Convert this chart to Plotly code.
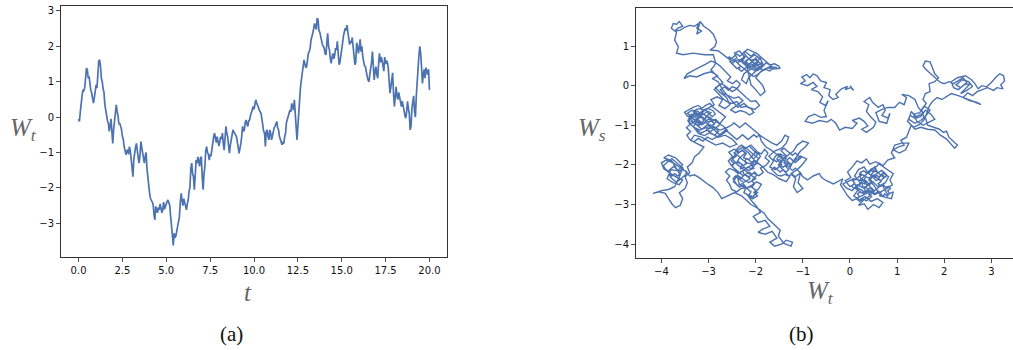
import plotly.graph_objects as go

# ---------------- Panel (a): W_t against t (dt = 0.05, t from 0 to 20) ----------------
t_start = 0.0
t_step = 0.05
w_a = [
    -0.05, -0.12, 0.15, 0.50, 0.60, 0.77, 0.75, 0.82, 1.10, 1.38, 1.35, 1.10, 1.15, 0.85, 0.75, 0.68, 0.52, 0.40, 0.55, 0.85,
    0.91, 0.82, 1.20, 1.58, 1.62, 1.45, 1.10, 1.00, 0.80, 0.70, 0.35, 0.20, -0.05, -0.10, -0.17, -0.40, -0.25, -0.05, -0.40, -0.74,
    -0.35, -0.15, 0.20, 0.35, 0.15, 0.05, -0.20, -0.17, -0.26, -0.35, -0.55, -0.62, -0.83, -0.95, -1.06, -0.95, -0.92, -1.05, -0.83, -0.95,
    -1.20, -1.45, -1.68, -1.20, -0.93, -0.85, -0.74, -1.00, -1.15, -1.30, -1.10, -0.69, -0.85, -1.00, -1.25, -1.30, -1.10, -1.00, -1.45, -1.77,
    -1.95, -2.15, -2.30, -2.34, -2.40, -2.45, -2.75, -2.90, -2.52, -2.60, -2.70, -2.55, -2.62, -2.45, -2.55, -2.70, -2.62, -2.40, -2.60, -2.50,
    -2.43, -2.38, -2.34, -2.45, -2.50, -2.81, -3.10, -3.45, -3.62, -3.28, -3.40, -3.35, -3.20, -3.09, -2.95, -2.81, -2.40, -2.15, -2.35, -2.50,
    -2.30, -2.40, -2.55, -2.62, -2.45, -2.34, -2.10, -1.96, -1.45, -1.30, -1.60, -1.68, -2.05, -1.70, -1.21, -1.30, -1.12, -1.25, -1.39, -1.15,
    -1.12, -1.70, -2.05, -1.60, -1.40, -0.95, -0.83, -1.00, -1.05, -1.21, -1.05, -1.10, -0.85, -0.64, -0.55, -0.45, -0.62, -0.72, -0.55, -0.65,
    -0.82, -0.70, -0.55, -0.62, -0.45, -0.75, -0.93, -0.60, -0.26, -0.45, -0.55, -0.80, -1.02, -0.80, -0.64, -0.45, -0.36, -0.42, -0.45, -0.50,
    -0.55, -0.80, -0.85, -1.02, -0.90, -0.75, -0.55, -0.26, -0.40, -0.36, -0.15, -0.08, -0.20, -0.26, -0.10, -0.08, 0.05, 0.11, 0.20, 0.30,
    0.22, 0.35, 0.49, 0.40, 0.30, 0.28, 0.20, 0.15, 0.11, -0.05, -0.26, -0.40, -0.45, -0.83, -0.40, -0.36, -0.55, -0.64, -0.36, -0.45,
    -0.64, -0.50, -0.45, -0.30, -0.26, -0.20, -0.12, -0.30, -0.36, -0.55, -0.64, -0.75, -0.78, -0.72, -0.74, -0.55, -0.45, -0.15, -0.08, 0.05,
    0.11, 0.20, 0.15, 0.39, 0.25, 0.20, 0.49, 0.10, -0.30, -0.64, -0.26, 0.20, 0.58, 0.85, 1.05, 1.25, 1.43, 1.62, 1.50, 1.40,
    1.43, 1.70, 1.81, 1.85, 1.95, 2.18, 2.25, 2.37, 2.50, 2.65, 2.55, 2.48, 2.80, 2.75, 2.45, 2.40, 2.28, 2.10, 2.05, 2.00,
    1.95, 1.80, 1.76, 2.10, 2.37, 2.00, 1.90, 1.65, 1.52, 1.70, 1.80, 1.65, 1.75, 1.95, 1.90, 2.14, 1.90, 1.48, 1.55, 1.80,
    2.00, 2.10, 2.30, 2.40, 2.51, 2.45, 2.60, 2.40, 2.20, 2.05, 2.15, 2.10, 2.25, 1.90, 1.70, 1.48, 1.55, 2.10, 2.00, 1.80,
    1.95, 2.20, 1.85, 2.00, 1.70, 1.55, 1.45, 1.43, 1.25, 1.15, 1.05, 1.00, 1.20, 1.35, 1.55, 1.85, 1.20, 1.05, 1.30, 1.43,
    1.20, 1.10, 1.50, 1.80, 1.55, 1.70, 1.60, 1.45, 1.30, 1.70, 1.50, 1.60, 1.55, 1.40, 0.90, 0.68, 0.85, 1.05, 1.25, 0.70,
    0.30, 0.55, 0.86, 0.60, 0.50, 0.70, 0.55, 0.40, 0.30, 0.45, 0.35, 0.20, 0.05, -0.03, 0.15, 0.45, 0.25, 0.10, -0.36, -0.25,
    0.25, 0.55, 0.60, 0.15, 0.00, 0.60, 1.10, 1.50, 1.75, 2.00, 1.80, 1.40, 0.95, 1.20, 1.35, 1.10, 1.40, 1.30, 1.20, 1.35,
    0.77,
]
x_ticks_a = [0.0, 2.5, 5.0, 7.5, 10.0, 12.5, 15.0, 17.5, 20.0]
y_ticks_a = [-3, -2, -1, 0, 1, 2, 3]

# ---------------- Panel (b): planar path (W_t, W_s) ----------------
seg_band = [
    (0.00, 0.00), (0.08, -0.12), (0.02, -0.05), (-0.10, -0.10), (-0.05, -0.02), (-0.18, -0.08), (-0.30, -0.22), (-0.25, -0.30),
    (-0.36, -0.35), (-0.45, -0.25), (-0.42, -0.10), (-0.55, -0.05), (-0.50, 0.08), (-0.62, 0.12), (-0.70, 0.25), (-0.78, 0.30),
    (-0.85, 0.20), (-0.92, 0.28), (-1.02, 0.22), (-0.95, 0.12), (-1.05, 0.05), (-0.90, 0.00), (-0.78, 0.08), (-0.70, -0.02),
    (-0.82, -0.10), (-0.68, -0.15), (-0.58, -0.28), (-0.64, -0.42), (-0.52, -0.50), (-0.46, -0.38), (-0.55, -0.62), (-0.50, -0.78),
    (-0.62, -0.80), (-0.75, -0.72), (-0.88, -0.78), (-0.95, -0.90), (-0.80, -0.95), (-0.65, -0.88), (-0.48, -0.92), (-0.40, -0.85),
    (-0.30, -0.95), (-0.22, -1.12), (-0.10, -1.05), (0.05, -1.08), (0.15, -0.95), (0.05, -0.88), (0.20, -0.82), (0.30, -0.90),
    (0.38, -1.02), (0.25, -1.10), (0.35, -1.18), (0.50, -1.05), (0.55, -0.92), (0.45, -0.80), (0.35, -0.65), (0.40, -0.48),
    (0.30, -0.40), (0.42, -0.30), (0.48, -0.42), (0.60, -0.55), (0.70, -0.48), (0.75, -0.62), (0.68, -0.75), (0.80, -0.82),
    (0.85, -0.70), (0.78, -0.95), (0.62, -0.90), (0.55, -0.68), (0.68, -0.60), (0.80, -0.55), (0.95, -0.55), (1.05, -0.42),
    (1.15, -0.48), (1.20, -0.30), (1.10, -0.22), (1.25, -0.25), (1.38, -0.35),
]
seg_mid_right = [
    (1.45, -0.55), (1.55, -0.70), (1.40, -0.78), (1.30, -0.65), (1.25, -0.85), (1.38, -0.95), (1.50, -0.88), (1.62, -0.75),
    (1.70, -0.62), (1.58, -0.52), (1.48, -0.68), (1.35, -0.72), (1.42, -0.90), (1.55, -1.00), (1.68, -0.92), (1.80, -0.85),
    (1.72, -0.72), (1.60, -0.62), (1.50, -0.78), (1.38, -0.82), (1.28, -0.75), (1.22, -0.90), (1.35, -1.05), (1.48, -0.98),
    (1.58, -0.85), (1.52, -0.60), (1.62, -0.45), (1.55, -0.35), (1.60, -0.20), (1.70, -0.15), (1.68, 0.05), (1.80, 0.10),
    (1.88, 0.20), (1.80, 0.30), (1.75, 0.45), (1.70, 0.60), (1.60, 0.62), (1.55, 0.50), (1.62, 0.40), (1.70, 0.32),
    (1.85, 0.15), (1.92, 0.08), (2.00, 0.05), (2.10, 0.10), (2.20, 0.05),
]
seg_top_right = [
    (2.30, 0.12), (2.40, 0.20), (2.48, 0.08), (2.35, -0.05), (2.25, 0.02), (2.38, 0.15), (2.52, 0.10), (2.60, -0.02),
    (2.48, -0.12), (2.35, -0.20), (2.45, -0.08), (2.55, 0.05), (2.42, 0.02), (2.30, -0.10), (2.20, -0.05), (2.15, 0.10),
    (2.28, 0.20), (2.45, 0.25), (2.58, 0.15), (2.65, 0.05), (2.72, -0.08), (2.80, 0.00), (2.90, -0.03), (3.00, 0.08),
    (3.10, 0.22), (3.18, 0.30), (3.26, 0.25), (3.28, 0.12), (3.20, 0.02), (3.25, -0.08), (3.12, -0.05), (3.05, -0.12),
    (2.92, -0.05), (2.80, -0.10), (2.70, -0.15), (2.60, -0.25), (2.50, -0.18), (2.40, -0.30), (2.55, -0.38), (2.70, -0.42),
    (2.78, -0.48), (2.62, -0.40), (2.45, -0.32), (2.30, -0.25), (2.15, -0.20), (2.05, -0.28), (1.95, -0.35), (1.85, -0.30),
    (1.75, -0.40), (1.68, -0.52),
]
seg_spur_down = [
    (1.60, -0.80), (1.65, -1.00), (1.78, -1.05), (1.90, -1.10), (1.98, -1.18), (2.05, -1.15), (2.10, -1.30), (2.20, -1.40),
    (2.28, -1.50), (2.22, -1.58), (2.15, -1.48), (2.05, -1.35), (1.92, -1.25), (1.80, -1.12), (1.65, -1.10), (1.50, -1.05),
    (1.38, -1.10), (1.30, -1.00), (1.25, -1.15), (1.20, -1.30), (1.08, -1.38), (1.15, -1.50), (1.02, -1.55), (0.92, -1.62),
    (1.05, -1.70), (1.18, -1.62), (1.25, -1.45), (1.10, -1.45), (0.95, -1.50), (0.88, -1.70), (0.95, -1.82), (0.80, -1.88),
    (0.70, -2.02), (0.62, -1.95),
]
seg_low_dense = [
    (0.58, -2.02), (0.52, -2.08), (0.57, -2.15), (0.50, -2.18), (0.44, -2.14), (0.40, -2.22), (0.46, -2.28), (0.41, -2.33),
    (0.34, -2.30), (0.30, -2.37), (0.36, -2.42), (0.31, -2.48), (0.24, -2.44), (0.20, -2.52), (0.26, -2.57), (0.33, -2.55),
    (0.38, -2.61), (0.45, -2.57), (0.50, -2.63), (0.47, -2.70), (0.54, -2.72), (0.60, -2.66), (0.66, -2.71), (0.63, -2.78),
    (0.70, -2.80), (0.74, -2.73), (0.79, -2.79), (0.84, -2.72), (0.80, -2.65), (0.86, -2.60), (0.82, -2.54), (0.76, -2.57),
    (0.71, -2.50), (0.65, -2.54), (0.60, -2.47), (0.66, -2.42), (0.62, -2.36), (0.55, -2.40), (0.51, -2.34), (0.56, -2.27),
    (0.63, -2.30), (0.69, -2.25), (0.74, -2.32), (0.78, -2.26), (0.73, -2.19), (0.67, -2.14), (0.61, -2.19), (0.55, -2.24),
    (0.48, -2.27), (0.43, -2.35), (0.47, -2.43), (0.42, -2.50), (0.36, -2.53), (0.30, -2.60), (0.34, -2.67), (0.28, -2.72),
    (0.22, -2.68), (0.16, -2.73), (0.20, -2.80), (0.14, -2.86), (0.21, -2.92), (0.28, -2.86), (0.35, -2.91), (0.41, -2.86),
    (0.46, -2.80), (0.40, -2.74), (0.45, -2.68), (0.38, -2.66), (0.31, -2.70), (0.26, -2.64), (0.19, -2.60), (0.14, -2.55),
    (0.08, -2.60), (0.04, -2.53), (0.10, -2.46), (0.06, -2.40), (0.13, -2.36), (0.18, -2.30), (0.25, -2.26), (0.22, -2.19),
    (0.29, -2.15), (0.35, -2.20), (0.41, -2.16), (0.47, -2.10), (0.53, -2.05), (0.55, -2.10),
]
seg_low_cluster = [
    (0.45, -2.25), (0.60, -2.35), (0.70, -2.20), (0.82, -2.30), (0.75, -2.45), (0.60, -2.55), (0.48, -2.42),
    (0.35, -2.50), (0.25, -2.35), (0.38, -2.20), (0.30, -2.05), (0.18, -2.12), (0.10, -2.28), (0.22, -2.45), (0.12, -2.60),
    (0.25, -2.70), (0.40, -2.62), (0.52, -2.75), (0.65, -2.68), (0.78, -2.60), (0.90, -2.50), (0.85, -2.38), (0.92, -2.22),
    (0.80, -2.12), (0.68, -2.02), (0.55, -1.92), (0.42, -1.98), (0.35, -1.85), (0.25, -1.95), (0.15, -1.90), (0.05, -2.05),
    (-0.05, -2.18), (0.02, -2.32), (-0.10, -2.40), (0.00, -2.55), (0.10, -2.48), (0.18, -2.62), (0.08, -2.78), (0.20, -2.88),
    (0.32, -2.80), (0.45, -2.92), (0.58, -2.85), (0.70, -2.95), (0.62, -3.08), (0.50, -3.00), (0.38, -3.12), (0.30, -2.98),
    (0.18, -3.02), (0.28, -2.90), (0.42, -2.78), (0.55, -2.62), (0.68, -2.50), (0.80, -2.75), (0.92, -2.68), (0.88, -2.85),
    (0.75, -2.82), (0.62, -2.72), (0.50, -2.50), (0.40, -2.38), (0.52, -2.28), (0.65, -2.40), (0.72, -2.32), (0.58, -2.18),
    (0.45, -2.10), (0.32, -2.28), (0.20, -2.22), (0.28, -2.58), (0.15, -2.50), (0.05, -2.65), (-0.08, -2.58), (-0.15, -2.48),
    (-0.02, -2.40), (0.08, -2.35), (0.35, -2.42), (0.48, -2.65), (0.35, -2.72), (0.22, -2.80), (0.05, -2.90), (-0.05, -2.78),
    (-0.12, -2.65), (-0.20, -2.50), (-0.15, -2.35), (-0.25, -2.42), (-0.35, -2.48), (-0.50, -2.40), (-0.60, -2.32), (-0.65, -2.22),
    (-0.78, -2.28), (-0.90, -2.38), (-1.00, -2.30), (-1.05, -2.20),
]
seg_lr_dense = [
    (-1.10, -2.15), (-1.16, -2.08), (-1.22, -2.14), (-1.28, -2.08), (-1.24, -2.00), (-1.30, -1.94), (-1.36, -2.00), (-1.42, -2.06),
    (-1.48, -2.00), (-1.44, -1.92), (-1.50, -1.86), (-1.56, -1.92), (-1.62, -1.86), (-1.58, -1.78), (-1.52, -1.72), (-1.46, -1.78),
    (-1.40, -1.84), (-1.34, -1.78), (-1.40, -1.70), (-1.46, -1.64), (-1.40, -1.58), (-1.34, -1.64), (-1.28, -1.70), (-1.22, -1.76),
    (-1.16, -1.70), (-1.10, -1.76), (-1.04, -1.82), (-1.10, -1.88), (-1.16, -1.94), (-1.22, -1.88), (-1.28, -1.82), (-1.34, -1.88),
    (-1.30, -1.96), (-1.36, -2.04), (-1.30, -2.12), (-1.36, -2.18), (-1.42, -2.12), (-1.48, -2.18), (-1.54, -2.12), (-1.60, -2.06),
    (-1.66, -2.12), (-1.60, -2.20), (-1.54, -2.26), (-1.46, -2.28), (-1.38, -2.24), (-1.30, -2.28), (-1.22, -2.24), (-1.16, -2.30),
    (-1.10, -2.24), (-1.05, -2.20),
]
seg_left_right_cluster = [
    (-1.10, -2.45), (-1.00, -2.60), (-1.12, -2.70), (-1.20, -2.55), (-1.15, -2.35), (-1.25, -2.22), (-1.10, -2.10), (-1.00, -1.98),
    (-0.92, -1.85), (-1.05, -1.78), (-1.18, -1.90), (-1.30, -2.05), (-1.40, -1.95), (-1.35, -1.80), (-1.48, -1.72), (-1.55, -1.85),
    (-1.45, -2.00), (-1.58, -2.12), (-1.70, -2.05), (-1.62, -1.90), (-1.72, -1.78), (-1.60, -1.65), (-1.45, -1.58), (-1.35, -1.45),
    (-1.30, -1.30), (-1.38, -1.25), (-1.45, -1.40), (-1.55, -1.50), (-1.65, -1.45), (-1.80, -1.35), (-1.92, -1.25), (-1.88, -1.40),
    (-1.78, -1.55), (-1.68, -1.62), (-1.50, -1.78), (-1.38, -1.92), (-1.25, -2.00), (-1.15, -1.82), (-1.05, -1.65), (-0.95, -1.55),
    (-0.88, -1.45), (-1.00, -1.40), (-1.12, -1.50), (-1.20, -1.65), (-1.30, -1.75), (-1.42, -1.85), (-1.52, -2.00), (-1.40, -2.15),
    (-1.28, -2.30), (-1.35, -2.42), (-1.50, -2.35), (-1.62, -2.25), (-1.75, -2.18), (-1.85, -2.05), (-1.95, -1.95),
]
seg_mid_mass = [
    (-2.03, -1.88), (-2.11, -1.97), (-2.04, -2.09), (-2.16, -2.14), (-2.25, -2.05), (-2.33, -2.11), (-2.29, -1.98), (-2.41, -1.93),
    (-2.52, -2.01), (-2.58, -1.90), (-2.49, -1.79), (-2.57, -1.68), (-2.45, -1.60), (-2.37, -1.71), (-2.29, -1.62), (-2.20, -1.71),
    (-2.26, -1.82), (-2.15, -1.87), (-2.07, -1.76), (-1.99, -1.66), (-1.88, -1.72), (-1.81, -1.61), (-1.74, -1.70), (-1.80, -1.82),
    (-1.71, -1.91), (-1.79, -2.02), (-1.90, -2.08), (-1.84, -2.19), (-1.93, -2.27), (-2.05, -2.21), (-2.14, -2.30), (-2.24, -2.24),
    (-2.31, -2.35), (-2.42, -2.31), (-2.47, -2.43), (-2.38, -2.52), (-2.27, -2.47), (-2.19, -2.58), (-2.08, -2.51), (-1.98, -2.43),
    (-1.88, -2.49), (-1.94, -2.61), (-2.04, -2.69), (-1.96, -2.78), (-2.07, -2.86), (-2.15, -2.77), (-2.25, -2.70), (-2.21, -2.58),
    (-2.32, -2.60), (-2.40, -2.68), (-2.51, -2.62), (-2.55, -2.50), (-2.62, -2.39), (-2.55, -2.28), (-2.64, -2.18), (-2.56, -2.09),
    (-2.45, -2.14), (-2.37, -2.22), (-2.28, -2.15), (-2.19, -2.07), (-2.10, -2.01), (-1.99, -1.98), (-1.95, -1.95),
]
seg_mid_dense = [
    (-2.00, -1.90), (-2.06, -1.96), (-2.12, -1.90), (-2.18, -1.84), (-2.24, -1.90), (-2.20, -1.97), (-2.27, -2.02), (-2.33, -1.96),
    (-2.38, -1.90), (-2.34, -1.82), (-2.28, -1.76), (-2.22, -1.70), (-2.28, -1.64), (-2.35, -1.68), (-2.41, -1.62), (-2.36, -1.55),
    (-2.30, -1.50), (-2.24, -1.54), (-2.18, -1.60), (-2.12, -1.66), (-2.06, -1.72), (-2.00, -1.78), (-1.94, -1.84), (-1.98, -1.92),
    (-2.04, -2.04), (-2.10, -2.10), (-2.16, -2.05), (-2.22, -2.10), (-2.28, -2.16), (-2.24, -2.24), (-2.18, -2.28), (-2.12, -2.34),
    (-2.18, -2.40), (-2.25, -2.44), (-2.31, -2.40), (-2.37, -2.34), (-2.43, -2.28), (-2.48, -2.35), (-2.44, -2.42), (-2.40, -2.50),
    (-2.34, -2.56), (-2.28, -2.52), (-2.22, -2.56), (-2.16, -2.62), (-2.10, -2.68), (-2.14, -2.75), (-2.08, -2.82), (-2.02, -2.76),
    (-1.96, -2.70), (-2.02, -2.62), (-2.08, -2.56), (-2.03, -2.48), (-2.08, -2.40), (-2.03, -2.32), (-1.97, -2.26), (-2.02, -2.18),
    (-2.08, -2.24), (-2.14, -2.18), (-2.20, -2.22), (-2.26, -2.28), (-2.32, -2.22), (-2.38, -2.16), (-2.44, -2.10), (-2.50, -2.04),
    (-2.46, -1.96), (-2.52, -1.90), (-2.46, -1.82), (-2.40, -1.76), (-2.46, -1.70), (-2.40, -1.64), (-2.34, -1.60), (-2.28, -1.56),
    (-2.20, -1.58), (-2.14, -1.52), (-2.08, -1.58), (-2.02, -1.66), (-1.96, -1.74), (-2.02, -1.82), (-2.05, -1.85),
]
seg_mid_cluster = [
    (-2.15, -1.70), (-2.25, -1.60), (-2.10, -1.50), (-2.00, -1.62), (-1.90, -1.78), (-2.02, -2.00), (-2.18, -1.95),
    (-2.30, -1.85), (-2.42, -1.72), (-2.50, -1.85), (-2.38, -2.00), (-2.25, -2.12), (-2.12, -2.22), (-2.00, -2.35), (-2.15, -2.45),
    (-2.28, -2.35), (-2.40, -2.25), (-2.35, -2.48), (-2.22, -2.60), (-2.10, -2.55), (-1.98, -2.65), (-2.05, -2.80), (-2.18, -2.75),
    (-2.08, -2.92), (-1.98, -3.05), (-1.90, -3.20), (-2.05, -3.30), (-1.95, -3.45), (-1.80, -3.40), (-1.70, -3.55), (-1.85, -3.62),
    (-1.95, -3.70), (-1.80, -3.75), (-1.65, -3.68), (-1.55, -3.85), (-1.70, -3.95), (-1.60, -4.05), (-1.45, -4.00), (-1.35, -3.90),
    (-1.22, -3.95), (-1.25, -4.05), (-1.40, -3.98), (-1.52, -3.80), (-1.48, -3.65), (-1.60, -3.52), (-1.75, -3.35), (-1.82, -3.22),
    (-1.95, -3.10), (-2.10, -3.00), (-2.20, -2.88), (-2.30, -2.78), (-2.45, -2.70), (-2.60, -2.78), (-2.72, -2.85), (-2.80, -2.70),
    (-2.90, -2.58), (-3.00, -2.50), (-3.10, -2.40), (-3.20, -2.32), (-3.30, -2.25), (-3.40, -2.28),
]
seg_fl_dense = [
    (-3.50, -2.15), (-3.56, -2.10), (-3.62, -2.16), (-3.68, -2.10), (-3.74, -2.04), (-3.80, -2.10), (-3.86, -2.16), (-3.92, -2.10),
    (-3.96, -2.02), (-3.90, -1.96), (-3.84, -1.90), (-3.78, -1.84), (-3.72, -1.90), (-3.66, -1.96), (-3.60, -2.02), (-3.54, -2.08),
    (-3.60, -2.22), (-3.66, -2.28), (-3.72, -2.22), (-3.78, -2.28), (-3.84, -2.22), (-3.80, -2.32), (-3.74, -2.38), (-3.68, -2.44),
    (-3.62, -2.38), (-3.56, -2.32), (-3.50, -2.26), (-3.46, -2.18),
]
seg_far_left = [
    (-3.50, -2.15), (-3.62, -2.05), (-3.75, -1.95), (-3.90, -1.88), (-4.00, -1.95), (-3.95, -2.10), (-3.82, -2.20), (-3.70, -2.30),
    (-3.55, -2.38), (-3.62, -2.50), (-3.75, -2.45), (-3.88, -2.35), (-3.80, -2.12), (-3.65, -2.15), (-3.55, -2.00), (-3.70, -1.82),
    (-3.85, -1.75), (-3.95, -1.82), (-3.78, -1.90), (-3.60, -2.25), (-3.72, -2.55), (-3.85, -2.62), (-4.00, -2.65), (-4.10, -2.70),
    (-4.18, -2.72), (-4.05, -2.68), (-3.92, -2.72), (-3.85, -2.85), (-3.78, -2.98), (-3.70, -3.08), (-3.60, -3.02), (-3.55, -2.85),
    (-3.62, -2.70), (-3.50, -2.60), (-3.45, -2.45), (-3.50, -2.30), (-3.40, -2.20), (-3.45, -2.05), (-3.35, -1.95), (-3.30, -1.80),
    (-3.20, -1.70), (-3.10, -1.55), (-3.25, -1.45), (-3.38, -1.38), (-3.30, -1.25), (-3.15, -1.30), (-3.00, -1.40), (-2.85, -1.50),
    (-2.70, -1.45), (-2.55, -1.55), (-2.40, -1.48), (-2.50, -1.35), (-2.65, -1.25), (-2.80, -1.30), (-2.95, -1.20), (-3.05, -1.10),
    (-2.90, -1.05), (-2.75, -1.12), (-2.60, -1.05),
]
seg_between = [
    (-2.52, -1.00), (-2.46, -0.94), (-2.40, -1.00), (-2.34, -1.06), (-2.28, -1.00), (-2.22, -0.94), (-2.16, -1.00), (-2.10, -1.06),
    (-2.04, -1.12), (-1.98, -1.18), (-1.92, -1.24), (-1.98, -1.30), (-2.04, -1.24), (-2.10, -1.30), (-2.16, -1.36), (-2.22, -1.30),
    (-2.28, -1.24), (-2.34, -1.30), (-2.40, -1.36), (-2.46, -1.30), (-2.52, -1.24), (-2.58, -1.18), (-2.64, -1.12), (-2.70, -1.18),
    (-2.76, -1.24), (-2.82, -1.18), (-2.88, -1.12), (-2.82, -1.04), (-2.76, -0.98),
]
seg_lm_dense = [
    (-2.82, -0.90), (-2.88, -0.96), (-2.94, -0.90), (-3.00, -0.84), (-3.06, -0.90), (-3.12, -0.96), (-3.18, -0.90), (-3.24, -0.84),
    (-3.30, -0.78), (-3.36, -0.72), (-3.42, -0.78), (-3.38, -0.86), (-3.32, -0.92), (-3.26, -0.98), (-3.20, -1.04), (-3.14, -1.10),
    (-3.08, -1.04), (-3.02, -0.98), (-2.96, -1.04), (-2.90, -1.10), (-2.96, -1.16), (-3.02, -1.12), (-3.10, -1.16), (-3.16, -1.20),
    (-3.22, -1.14), (-3.28, -1.08), (-3.34, -1.02), (-3.40, -0.96), (-3.44, -0.88), (-3.40, -0.80), (-3.34, -0.74), (-3.28, -0.66),
    (-3.22, -0.72), (-3.16, -0.66), (-3.10, -0.72), (-3.04, -0.66), (-2.98, -0.72), (-2.92, -0.78), (-2.86, -0.72), (-2.90, -0.64),
    (-2.96, -0.60), (-3.04, -0.58), (-3.12, -0.62), (-3.18, -0.58), (-3.26, -0.60), (-3.32, -0.66), (-3.26, -0.76), (-3.20, -0.82),
    (-3.14, -0.78), (-3.08, -0.84), (-3.02, -0.78), (-2.96, -0.84), (-2.90, -0.86), (-2.82, -0.92), (-2.76, -0.96),
]
seg_lm_mass = [
    (-2.68, -1.03), (-2.60, -1.13), (-2.70, -1.22), (-2.81, -1.28), (-2.92, -1.36), (-3.03, -1.30), (-3.12, -1.40), (-3.22, -1.33),
    (-3.31, -1.42), (-3.40, -1.36), (-3.46, -1.25), (-3.38, -1.16), (-3.47, -1.06), (-3.39, -0.97), (-3.30, -1.07), (-3.21, -1.21),
    (-3.09, -1.26), (-2.98, -1.19), (-2.87, -1.25), (-2.79, -1.15), (-2.86, -1.05), (-2.97, -0.99), (-3.06, -0.93), (-3.15, -0.99),
    (-3.25, -0.92), (-3.34, -0.83), (-3.45, -0.77), (-3.51, -0.67), (-3.42, -0.60), (-3.33, -0.55), (-3.22, -0.50), (-3.14, -0.57),
    (-3.06, -0.50), (-2.97, -0.45), (-2.90, -0.55), (-2.82, -0.63), (-2.73, -0.70), (-2.64, -0.79), (-2.71, -0.88), (-2.76, -0.96),
]
seg_left_mid = [
    (-2.85, -0.85), (-3.00, -0.92), (-3.15, -0.80), (-3.28, -0.70), (-3.40, -0.78), (-3.35, -0.92), (-3.20, -1.00),
    (-3.10, -0.88), (-3.22, -0.65), (-3.35, -0.62), (-3.45, -0.70), (-3.30, -0.85), (-3.15, -0.95), (-3.05, -0.78), (-2.95, -0.68),
    (-3.08, -0.62), (-3.20, -0.75), (-3.32, -1.05), (-3.18, -1.12), (-3.02, -1.05), (-2.88, -0.98), (-2.95, -0.82), (-3.12, -0.72),
    (-3.25, -0.85), (-3.38, -0.98), (-3.42, -0.85), (-3.00, -0.55), (-2.88, -0.48), (-2.95, -0.35), (-2.82, -0.28), (-2.70, -0.35),
    (-2.78, -0.50), (-2.65, -0.58), (-2.55, -0.48), (-2.62, -0.30), (-2.75, -0.18), (-2.85, -0.05), (-2.72, 0.05), (-2.60, -0.05),
    (-2.50, -0.15), (-2.40, -0.08), (-2.30, -0.20), (-2.20, -0.30), (-2.10, -0.40), (-2.00, -0.38), (-1.92, -0.50), (-2.02, -0.60),
    (-2.15, -0.55), (-2.25, -0.45), (-2.38, -0.55), (-2.48, -0.42), (-2.60, -0.25), (-2.70, -0.10), (-2.80, 0.10), (-2.92, 0.18),
    (-2.80, 0.25), (-2.95, 0.35), (-3.10, 0.30), (-3.25, 0.22), (-3.40, 0.25), (-3.52, 0.18), (-3.45, 0.30), (-3.30, 0.40),
    (-3.15, 0.48), (-3.05, 0.55), (-2.95, 0.62), (-2.85, 0.58),
]
seg_column = [
    (-2.76, 0.50), (-2.68, 0.41), (-2.61, 0.31), (-2.53, 0.22), (-2.60, 0.12), (-2.49, 0.05), (-2.41, 0.13), (-2.33, 0.04),
    (-2.39, -0.07), (-2.50, -0.03), (-2.58, -0.12), (-2.66, -0.03), (-2.75, -0.10), (-2.68, -0.21), (-2.57, -0.26), (-2.46, -0.32),
    (-2.36, -0.28), (-2.27, -0.38), (-2.36, -0.46), (-2.45, -0.53), (-2.53, -0.61), (-2.43, -0.68), (-2.33, -0.63), (-2.22, -0.67),
    (-2.13, -0.74), (-2.04, -0.68), (-2.10, -0.58), (-2.21, -0.52), (-2.31, -0.55), (-2.40, -0.40), (-2.51, -0.45), (-2.62, -0.40),
    (-2.72, -0.30), (-2.80, -0.19), (-2.88, -0.10), (-2.79, 0.00), (-2.70, 0.08), (-2.78, 0.19), (-2.86, 0.30), (-2.95, 0.40),
    (-2.88, 0.50), (-2.85, 0.58),
]
seg_top_loop = [
    (-2.90, 0.78), (-3.08, 0.78), (-3.33, 0.82), (-3.54, 0.78), (-3.68, 0.82), (-3.64, 0.98), (-3.72, 1.15), (-3.68, 1.35),
    (-3.79, 1.45), (-3.75, 1.57), (-3.68, 1.55), (-3.62, 1.62), (-3.55, 1.50), (-3.65, 1.45), (-3.72, 1.38), (-3.60, 1.40),
    (-3.50, 1.48), (-3.40, 1.52), (-3.30, 1.50), (-3.20, 1.58), (-3.25, 1.45), (-3.15, 1.38), (-3.25, 1.30), (-3.18, 1.62),
    (-3.10, 1.50), (-2.98, 1.40), (-2.90, 1.30), (-2.83, 1.11), (-2.87, 0.98), (-2.97, 0.90), (-2.80, 0.88), (-2.70, 0.80),
]
seg_tc_dense = [
    (-2.60, 0.70), (-2.52, 0.68), (-2.46, 0.74), (-2.40, 0.80), (-2.34, 0.74), (-2.28, 0.80), (-2.22, 0.86), (-2.16, 0.80),
    (-2.10, 0.74), (-2.04, 0.80), (-1.98, 0.74), (-1.92, 0.68), (-1.96, 0.60), (-2.02, 0.56), (-2.08, 0.62), (-2.14, 0.68),
    (-2.20, 0.62), (-2.26, 0.56), (-2.20, 0.50), (-2.14, 0.44), (-2.08, 0.50), (-2.02, 0.44), (-1.96, 0.38), (-1.90, 0.44),
    (-1.84, 0.50), (-1.88, 0.58), (-1.94, 0.52), (-2.00, 0.58), (-2.06, 0.52), (-2.12, 0.56), (-2.18, 0.48), (-2.24, 0.42),
    (-2.30, 0.36), (-2.36, 0.42), (-2.32, 0.50), (-2.38, 0.56), (-2.34, 0.64), (-2.28, 0.68), (-2.22, 0.74), (-2.28, 0.62),
    (-2.36, 0.66), (-2.44, 0.62), (-2.50, 0.56), (-2.56, 0.62),
]
seg_tc_mass = [
    (-2.48, 0.52), (-2.40, 0.43), (-2.31, 0.49), (-2.22, 0.39), (-2.13, 0.31), (-2.05, 0.23), (-1.96, 0.28), (-1.88, 0.36),
    (-1.79, 0.41), (-1.70, 0.37), (-1.62, 0.45), (-1.71, 0.54), (-1.80, 0.62), (-1.89, 0.72), (-1.97, 0.81), (-2.07, 0.86),
    (-2.17, 0.92), (-2.26, 0.84), (-2.19, 0.73), (-2.11, 0.64), (-2.03, 0.66), (-1.93, 0.59), (-1.85, 0.49), (-1.93, 0.47),
    (-2.02, 0.38), (-2.11, 0.45), (-2.20, 0.55), (-2.30, 0.63), (-2.39, 0.58), (-2.47, 0.66), (-2.56, 0.72),
]
seg_top_cluster = [
    (-2.60, 0.70), (-2.50, 0.62), (-2.40, 0.70), (-2.45, 0.82), (-2.35, 0.88), (-2.25, 0.75), (-2.30, 0.60), (-2.20, 0.50),
    (-2.10, 0.58), (-2.00, 0.70), (-1.95, 0.60), (-2.05, 0.45), (-2.15, 0.38), (-2.25, 0.30), (-2.30, 0.15), (-2.20, 0.05),
    (-2.15, 0.20), (-2.05, 0.30), (-1.95, 0.42), (-1.85, 0.55), (-1.90, 0.68), (-2.02, 0.78), (-2.12, 0.70), (-2.22, 0.62),
    (-2.10, 0.48), (-1.98, 0.52), (-1.88, 0.45), (-1.78, 0.58), (-1.70, 0.52), (-1.60, 0.55), (-1.52, 0.50), (-1.48, 0.44),
    (-1.60, 0.42), (-1.75, 0.45), (-1.90, 0.35), (-2.00, 0.20), (-1.92, 0.10), (-1.85, 0.00), (-1.80, -0.15), (-1.90, -0.25),
    (-2.00, -0.10), (-2.10, 0.02), (-2.18, 0.45), (-2.08, 0.62), (-1.98, 0.45), (-1.85, 0.40), (-1.70, 0.48), (-1.55, 0.46),
]
x_ticks_b = [-4, -3, -2, -1, 0, 1, 2, 3]
y_ticks_b = [-4, -3, -2, -1, 0, 1]

path_b = (seg_band + seg_mid_right + seg_top_right + seg_spur_down + seg_low_dense + seg_low_cluster
          + seg_lr_dense + seg_left_right_cluster + seg_mid_mass + seg_mid_dense + seg_mid_cluster
          + seg_fl_dense + seg_far_left + seg_between + seg_lm_dense + seg_lm_mass + seg_left_mid
          + seg_column + seg_top_loop + seg_tc_dense + seg_tc_mass + seg_top_cluster)
wt_b = [p[0] for p in path_b]
ws_b = [p[1] for p in path_b]

# ---------------- Figure ----------------
W, H = 1013, 350
LINE = "#4C72B0"


def px(x):
    return x / W


def py(y):
    return 1 - y / H


fig = go.Figure()
fig.add_trace(go.Scatter(x0=t_start, dx=t_step, y=w_a, mode="lines",
                         line=dict(color=LINE, width=1.7), xaxis="x", yaxis="y",
                         showlegend=False, hoverinfo="skip"))
fig.add_trace(go.Scatter(x=wt_b, y=ws_b, mode="lines",
                         line=dict(color=LINE, width=1.4), xaxis="x2", yaxis="y2",
                         showlegend=False, hoverinfo="skip"))

tickfont = dict(family="DejaVu Sans", size=10, color="#111111")
axis_common = dict(showgrid=False, zeroline=False, ticks="outside", ticklen=4,
                   tickwidth=0.8, tickcolor="#222222", tickfont=tickfont,
                   showline=True, linecolor="#333333", linewidth=1)

fig.update_layout(
    width=W, height=H,
    margin=dict(l=0, r=0, t=0, b=0),
    paper_bgcolor="white", plot_bgcolor="white",
    xaxis=dict(domain=[px(61), px(447)], range=[-1.0, 21.0], tickvals=x_ticks_a,
               tickformat=".1f", mirror=True, anchor="y", **axis_common),
    yaxis=dict(domain=[py(257), py(6)], range=[-3.95, 3.14], tickvals=y_ticks_a,
               mirror=True, anchor="x", **axis_common),
    xaxis2=dict(domain=[px(636), 1.0], range=[-4.54, 3.46], tickvals=x_ticks_b,
                mirror=True, anchor="y2", **axis_common),
    yaxis2=dict(domain=[py(258), py(8)], range=[-4.35, 1.96], tickvals=y_ticks_b,
                mirror=False, anchor="x2", **axis_common),
)

label_font = dict(family="Liberation Serif, DejaVu Serif, serif", size=25, color="#666666")
cap_font = dict(family="Liberation Serif, DejaVu Serif, serif", size=21, color="#111111")
annos = [
    dict(text="<i>W<sub>t</sub></i>", x=px(23), y=py(129), font=label_font),
    dict(text="<i>t</i>", x=px(248), y=py(292), font=label_font),
    dict(text="<i>W<sub>s</sub></i>", x=px(592), y=py(129), font=label_font),
    dict(text="<i>W<sub>t</sub></i>", x=px(820), y=py(292), font=label_font),
    dict(text="(a)", x=px(231), y=py(334), font=cap_font),
    dict(text="(b)", x=px(801), y=py(334), font=cap_font),
]
for a in annos:
    fig.add_annotation(xref="paper", yref="paper", showarrow=False,
                       xanchor="center", yanchor="middle", **a)

fig.write_html("out.html",
               config={"displayModeBar": False, "staticPlot": True},
               post_script="document.body.style.margin='0px';document.body.style.overflow='hidden';")
